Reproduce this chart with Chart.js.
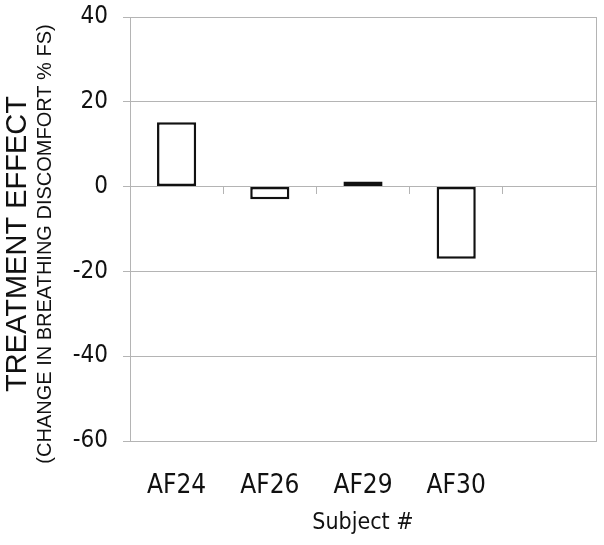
<!DOCTYPE html>
<html>
<head>
<meta charset="utf-8">
<script src="https://cdn.jsdelivr.net/npm/chart.js@4/dist/chart.umd.min.js"></script>
<style>
  html, body { margin: 0; padding: 0; background: #fff; }
  #wrap { width: 604px; height: 545px; }
</style>
</head>
<body>
<div id="wrap"><canvas id="chart"></canvas></div>
<script>
// Dados
const subjects = ['AF24', 'AF26', 'AF29', 'AF30', ''];
const treatmentEffect = [15.2, -3, 1.2, -17, null];
const yMin = -60;
const yMax = 40;
const yStep = 20;

const GRID = '#b4b4b4';
const FONT_NUM = "'DejaVu Sans Condensed', 'DejaVu Sans', sans-serif";
const FONT_TITLE = "'Liberation Sans', Arial, sans-serif";

// Título do eixo Y em duas linhas com tamanhos diferentes
const yTitlePlugin = {
  id: 'yTitle',
  afterDraw(chart) {
    const { ctx, chartArea } = chart;
    const cy = (chartArea.top + chartArea.bottom) / 2 + 15;
    ctx.save();
    ctx.fillStyle = '#111';
    ctx.textAlign = 'center';
    ctx.textBaseline = 'middle';
    ctx.translate(18, cy);
    ctx.rotate(-Math.PI / 2);
    ctx.font = `29px ${FONT_TITLE}`;
    ctx.fillText('TREATMENT EFFECT', 0, 0);
    ctx.font = `20px ${FONT_TITLE}`;
    ctx.fillText('(CHANGE IN BREATHING DISCOMFORT % FS)', 0, 27);
    ctx.restore();
  },
};

new Chart(document.getElementById('chart'), {
  type: 'bar',
  data: {
    labels: subjects,
    datasets: [{
      data: treatmentEffect,
      backgroundColor: '#fff',
      borderColor: '#111',
      borderWidth: 2.5,
      borderSkipped: false,
      categoryPercentage: 1,
      barPercentage: 0.42,
    }],
  },
  options: {
    responsive: true,
    maintainAspectRatio: false,
    animation: false,
    layout: { padding: { top: 17, right: 8, left: 0, bottom: 0 } },
    plugins: {
      legend: { display: false },
      tooltip: { enabled: false },
    },
    scales: {
      x: {
        position: { y: 0 },
        ticks: { display: false },
        grid: {
          drawOnChartArea: false,
          drawTicks: true,
          tickLength: 7,
          color: GRID,
          offset: true,
        },
        border: { color: GRID },
      },
      x2: {
        type: 'category',
        position: 'bottom',
        grid: { display: false },
        border: { display: false },
        ticks: {
          color: '#111',
          padding: 22,
          font: { family: FONT_NUM, size: 26 },
          maxRotation: 0,
        },
        title: {
          display: true,
          text: 'Subject #',
          color: '#111',
          font: { family: FONT_NUM, size: 23 },
          padding: { top: 4, bottom: 8 },
        },
        afterFit: s => { s.height = 104; },
      },
      y: {
        min: yMin,
        max: yMax,
        ticks: {
          stepSize: yStep,
          color: '#111',
          padding: 15,
          font: { family: FONT_NUM, size: 24 },
        },
        grid: { color: GRID, tickLength: 7, lineWidth: 1 },
        border: { color: GRID },
        afterFit: s => { s.width = 130; s.paddingTop = 0; s.paddingBottom = 0; },
      },
      y2: {
        position: 'right',
        min: yMin,
        max: yMax,
        ticks: { display: false },
        grid: { display: false },
        border: { color: GRID },
        afterFit: s => { s.width = 0; },
      },
    },
  },
  plugins: [yTitlePlugin],
});
</script>
</body>
</html>
